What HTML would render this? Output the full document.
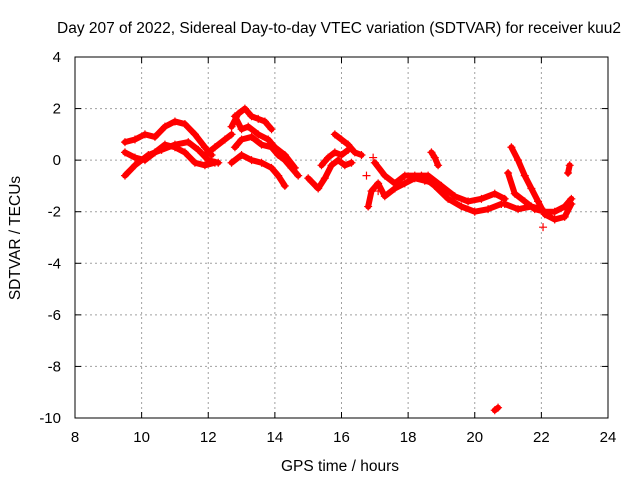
<!DOCTYPE html>
<html><head><meta charset="utf-8"><style>
body{margin:0;background:#fff;}
svg{display:block;font-family:"Liberation Sans",sans-serif;}
</style></head><body>
<svg id="chart" width="640" height="480" viewBox="0 0 640 480">
<text x="339" y="33" font-size="15.5" text-anchor="middle">Day 207 of 2022, Sidereal Day-to-day VTEC variation (SDTVAR) for receiver kuu2</text>
<text x="340" y="471" font-size="15.5" text-anchor="middle">GPS time / hours</text>
<text x="0" y="0" font-size="15.5" text-anchor="middle" transform="translate(20,238) rotate(-90)">SDTVAR / TECUs</text>
<g id="grid"></g>
<g id="ticks"></g>
<g id="series"></g>
<rect x="75" y="57" width="533" height="361" fill="none" stroke="#000" stroke-width="1"/>
</svg>
<script>
const xTicks=[8,10,12,14,16,18,20,22,24];
const yTicks=[4,2,0,-2,-4,-6,-8,-10];
const tracks=[
[[9.5,-0.6],[9.8,-0.2],[10.2,0.2],[10.6,0.4],[11.0,0.6],[11.4,0.7],[11.7,0.4],[12.0,0.0],[12.3,-0.1]],
[[9.5,0.7],[9.8,0.8],[10.1,1.0],[10.4,0.9],[10.7,1.3],[11.0,1.5],[11.3,1.4],[11.6,1.0],[11.9,0.5],[12.1,0.2]],
[[9.5,0.3],[9.8,0.1],[10.1,0.0],[10.4,0.3],[10.7,0.6],[11.0,0.5],[11.3,0.3],[11.6,-0.1],[11.9,-0.2],[12.2,-0.1]],
[[11.9,0.2],[12.2,0.5],[12.5,0.8],[12.7,1.0]],
[[12.7,1.3],[12.9,1.8],[13.1,2.0],[13.3,1.7],[13.5,1.6],[13.7,1.5],[13.9,1.2]],
[[12.8,0.5],[13.0,0.8],[13.3,0.9],[13.6,0.6],[13.9,0.5],[14.1,0.2],[14.3,0.0],[14.5,-0.3],[14.7,-0.6]],
[[12.7,-0.1],[13.0,0.2],[13.3,0.0],[13.6,-0.1],[13.9,-0.3],[14.1,-0.6],[14.3,-1.0]],
[[12.8,1.7],[13.0,1.2],[13.2,1.3],[13.5,1.0],[13.8,0.8],[14.0,0.5],[14.3,0.2],[14.6,-0.3]],
[[15.0,-0.7],[15.3,-1.1],[15.5,-0.7],[15.7,-0.2],[15.9,0.0],[16.1,-0.2],[16.3,-0.1]],
[[15.4,-0.2],[15.6,0.1],[15.8,0.3],[16.0,0.2],[16.2,0.4]],
[[15.8,1.0],[16.0,0.8],[16.2,0.6],[16.4,0.3],[16.6,0.2]],
[[16.8,-1.8],[16.9,-1.2],[17.1,-0.9],[17.3,-1.4],[17.6,-1.1],[17.9,-0.9],[18.2,-0.7],[18.5,-0.8],[18.8,-0.9]],
[[17.0,-0.1],[17.3,-0.6],[17.6,-0.9],[17.9,-0.6],[18.2,-0.6],[18.6,-0.6],[19.0,-1.0],[19.4,-1.4],[19.8,-1.6],[20.2,-1.5],[20.6,-1.3],[20.9,-1.5]],
[[18.4,-0.6],[18.8,-1.0],[19.2,-1.5],[19.6,-1.8],[20.0,-2.0],[20.4,-1.9],[20.8,-1.7]],
[[18.7,0.3],[18.8,0.1],[18.9,-0.2]],
[[21.0,-0.5],[21.2,-1.3],[21.5,-1.6],[21.8,-1.9],[22.1,-2.0],[22.4,-2.0],[22.7,-1.8],[22.9,-1.5]],
[[21.1,0.5],[21.3,0.0],[21.5,-0.6],[21.7,-1.1],[21.9,-1.6],[22.1,-2.1],[22.4,-2.3],[22.7,-2.2],[22.9,-1.7]],
[[20.9,-1.7],[21.3,-1.9],[21.7,-1.8],[22.0,-1.9]],
[[20.6,-9.7],[20.7,-9.6]],
[[22.8,-0.5],[22.85,-0.2]],
[[16.75,-0.6]],
[[16.95,0.1]],
[[17.1,-1.2]],
[[22.05,-2.6]]
];
const NS="http://www.w3.org/2000/svg";
const L=75,R=608,T=57,B=418;
const sx=v=>L+(v-8)/(24-8)*(R-L);
const sy=v=>T+(4-v)/(4-(-10))*(B-T);
const grid=document.getElementById('grid'),ticks=document.getElementById('ticks'),ser=document.getElementById('series');
function mk(tag,attrs,parent){const e=document.createElementNS(NS,tag);for(const k in attrs)e.setAttribute(k,attrs[k]);parent.appendChild(e);return e;}
xTicks.forEach(v=>{const x=sx(v);
 if(v>8&&v<24){const g=mk('line',{x1:x,y1:T,x2:x,y2:B,stroke:'#a0a0a0','stroke-dasharray':'2,3'},grid);}
 mk('line',{x1:x,y1:B,x2:x,y2:B-6,stroke:'#000'},ticks);mk('line',{x1:x,y1:T,x2:x,y2:T+6,stroke:'#000'},ticks);
 const t=mk('text',{x:x,y:B+24,'font-size':15,'text-anchor':'middle'},ticks);t.textContent=v;
 });
yTicks.forEach(v=>{const y=sy(v);
 if(v<4&&v>-10){const g=mk('line',{x1:L,y1:y,x2:R,y2:y,stroke:'#a0a0a0','stroke-dasharray':'2,3'},grid);}
 mk('line',{x1:L,y1:y,x2:L+6,y2:y,stroke:'#000'},ticks);mk('line',{x1:R,y1:y,x2:R-6,y2:y,stroke:'#000'},ticks);
 const t=mk('text',{x:L-14,y:y+5,'font-size':15,'text-anchor':'end'},ticks);t.textContent=v;
 });
tracks.forEach(tr=>{
 if(tr.length>1){
 const p=mk('polyline',{points:tr.map(d=>sx(d[0])+','+sy(d[1])).join(' '),fill:'none',stroke:'#ff0000','stroke-width':6,'stroke-linejoin':'round','stroke-linecap':'round'},ser);
 
 
 }
 tr.forEach(d=>{const x=sx(d[0]),y=sy(d[1]);
  const m=mk('path',{d:`M${x-4},${y}H${x+4}M${x},${y-4}V${y+4}`,stroke:'#ff0000','stroke-width':1.2},ser);
  
  });
});
</script>
</body></html>
